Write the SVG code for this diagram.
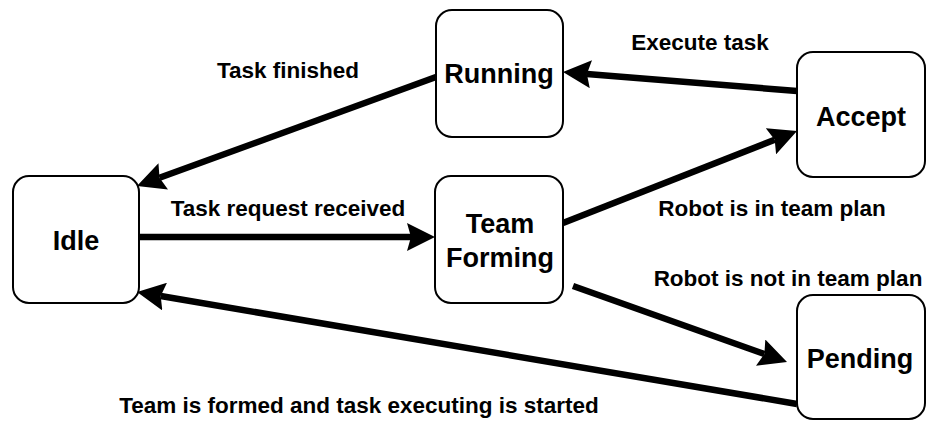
<svg xmlns="http://www.w3.org/2000/svg" width="930" height="421" viewBox="0 0 930 421">
  <style>
    .state rect { fill: #ffffff; stroke: #000000; stroke-width: 2; }
    .state text { font-family: "Liberation Sans", Arial, sans-serif; font-weight: bold; font-size: 27px; fill: #000000; text-anchor: middle; }
    .edge { stroke: #000000; stroke-width: 6.5; fill: none; marker-end: url(#head); }
    .label { font-family: "Liberation Sans", Arial, sans-serif; font-weight: bold; font-size: 22.5px; fill: #000000; text-anchor: middle; }
  </style>
  <defs>
    <marker id="head" markerUnits="userSpaceOnUse" viewBox="0 0 28 28" markerWidth="28" markerHeight="28" refX="4" refY="14" orient="auto">
      <path d="M0,0 L28,14 L0,28 L4,14 Z" fill="#000000"/>
    </marker>
  </defs>
  <rect width="930" height="421" fill="#ffffff"/>

  <g id="connectors">
    <line class="edge" x1="135" y1="237" x2="411" y2="237"/>
    <line class="edge" x1="436" y1="77" x2="159.5" y2="177.8"/>
    <line class="edge" x1="797" y1="91" x2="586.9" y2="73.9"/>
    <line class="edge" x1="563" y1="223" x2="774.7" y2="139.8"/>
    <line class="edge" x1="573" y1="286" x2="764.4" y2="354"/>
    <line class="edge" x1="797" y1="404" x2="160.7" y2="296"/>
    <text class="label" x="288" y="216">Task request received</text>
    <text class="label" x="288" y="78">Task finished</text>
    <text class="label" x="700" y="50">Execute task</text>
    <text class="label" x="772" y="216">Robot is in team plan</text>
    <text class="label" x="788" y="286">Robot is not in team plan</text>
    <text class="label" x="359" y="413">Team is formed and task executing is started</text>
  </g>

  <g id="idle" class="state">
    <rect x="13" y="176" width="126" height="127" rx="16"/>
    <text x="76" y="250">Idle</text>
  </g>
  <g id="running" class="state">
    <rect x="436" y="10" width="127" height="127" rx="16"/>
    <text x="499" y="83">Running</text>
  </g>
  <g id="accept" class="state">
    <rect x="797" y="52" width="128" height="125" rx="16"/>
    <text x="861" y="126">Accept</text>
  </g>
  <g id="team-forming" class="state">
    <rect x="435" y="176" width="128" height="127" rx="16"/>
    <text x="500" y="233">Team</text>
    <text x="500" y="267">Forming</text>
  </g>
  <g id="pending" class="state">
    <rect x="797" y="295" width="128" height="124" rx="16"/>
    <text x="860" y="368">Pending</text>
  </g>
</svg>
